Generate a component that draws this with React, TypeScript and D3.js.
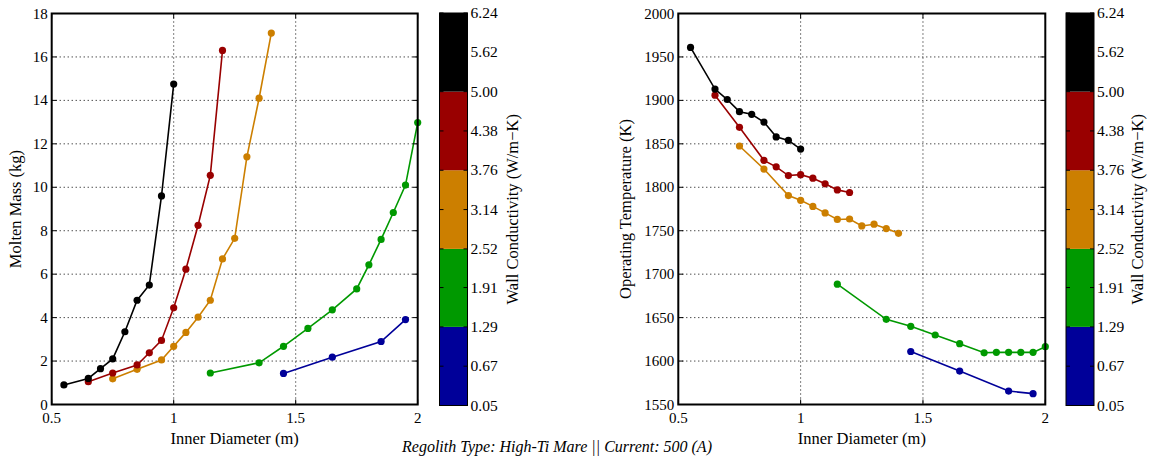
import React from "react";
import * as d3 from "d3";

// Inner diameter (m) per wall-conductivity class
const xBlack = [0.55, 0.65, 0.7, 0.75, 0.8, 0.85, 0.9, 0.95, 1.0];
const xRed = [0.65, 0.75, 0.85, 0.9, 0.95, 1.0, 1.05, 1.1, 1.15, 1.2];
const xOrange = [0.75, 0.85, 0.95, 1.0, 1.05, 1.1, 1.15, 1.2, 1.25, 1.3, 1.35, 1.4];
const xGreen = [1.15, 1.35, 1.45, 1.55, 1.65, 1.75, 1.8, 1.85, 1.9, 1.95, 2.0];
const xBlue = [1.45, 1.65, 1.85, 1.95];

// Molten mass (kg)
const massBlack = [0.9, 1.2, 1.65, 2.1, 3.35, 4.8, 5.5, 9.6, 14.75];
const massRed = [1.05, 1.45, 1.82, 2.38, 2.95, 4.45, 6.23, 8.25, 10.55, 16.3];
const massOrange = [1.18, 1.62, 2.05, 2.68, 3.32, 4.02, 4.8, 6.7, 7.65, 11.4, 14.1, 17.1];
const massGreen = [1.45, 1.92, 2.68, 3.5, 4.36, 5.32, 6.43, 7.6, 8.84, 10.1, 12.98];
const massBlue = [1.43, 2.18, 2.9, 3.91];

// Operating temperature (K)
const tempBlack = [1961, 1913, 1901, 1887, 1884, 1875, 1858, 1854, 1844];
const tempRed = [1906, 1869, 1831, 1823.5, 1813.5, 1814.5, 1810.5, 1804, 1797, 1794];
const tempOrange = [1847.5, 1821, 1790.5, 1785, 1778, 1770.5, 1763, 1763.5, 1755.5, 1757.5, 1752.5, 1747];
const tempGreen = [1688.5, 1648, 1640, 1630, 1620, 1609.5, 1610, 1610, 1610, 1610, 1616.5];
const tempBlue = [1611, 1588.5, 1565.5, 1562.5];

// Colour classes and colorbar ticks
const classColors = ["#000099", "#009900", "#cc7f00", "#990000", "#000000"];
const classBounds = [0.05, 1.29, 2.52, 3.76, 5.0, 6.24];
const cbarTicks = ["0.05", "0.67", "1.29", "1.91", "2.52", "3.14", "3.76", "4.38", "5.00", "5.62", "6.24"];

const xTicks = [0.5, 1, 1.5, 2];
const massTicks = [0, 2, 4, 6, 8, 10, 12, 14, 16, 18];
const tempTicks = [1550, 1600, 1650, 1700, 1750, 1800, 1850, 1900, 1950, 2000];

const FONT = "'Liberation Serif', 'Times New Roman', serif";

type Series = { x: number[]; y: number[]; color: string };

const massSeries: Series[] = [
  { x: xBlue, y: massBlue, color: classColors[0] },
  { x: xGreen, y: massGreen, color: classColors[1] },
  { x: xOrange, y: massOrange, color: classColors[2] },
  { x: xRed, y: massRed, color: classColors[3] },
  { x: xBlack, y: massBlack, color: classColors[4] },
];
const tempSeries: Series[] = [
  { x: xBlue, y: tempBlue, color: classColors[0] },
  { x: xGreen, y: tempGreen, color: classColors[1] },
  { x: xOrange, y: tempOrange, color: classColors[2] },
  { x: xRed, y: tempRed, color: classColors[3] },
  { x: xBlack, y: tempBlack, color: classColors[4] },
];

function Panel(props: {
  left: number;
  right: number;
  top: number;
  bottom: number;
  yDomain: [number, number];
  yTicks: number[];
  series: Series[];
  yLabel: string;
  yLabelX: number;
}) {
  const { left, right, top, bottom, yDomain, yTicks, series, yLabel, yLabelX } = props;
  const x = d3.scaleLinear().domain([0.5, 2]).range([left, right]);
  const y = d3.scaleLinear().domain(yDomain).range([bottom, top]);
  const line = d3
    .line<[number, number]>()
    .x((d) => x(d[0]))
    .y((d) => y(d[1]));
  const tl = 5;
  return (
    <g>
      {/* grid */}
      {xTicks.slice(1, -1).map((t) => (
        <line key={"gx" + t} x1={x(t)} x2={x(t)} y1={top} y2={bottom} stroke="#000" strokeWidth={1} strokeDasharray="1,3" />
      ))}
      {yTicks.slice(1, -1).map((t) => (
        <line key={"gy" + t} x1={left} x2={right} y1={y(t)} y2={y(t)} stroke="#000" strokeWidth={1} strokeDasharray="1,3" />
      ))}
      {/* series */}
      {series.map((s, i) => {
        const pts = s.x.map((v, j) => [v, s.y[j]] as [number, number]);
        return (
          <g key={i}>
            <path d={line(pts) || ""} fill="none" stroke={s.color} strokeWidth={1.6} />
            {pts.map((p, j) => (
              <circle key={j} cx={x(p[0])} cy={y(p[1])} r={3.6} fill={s.color} />
            ))}
          </g>
        );
      })}
      {/* ticks */}
      {xTicks.map((t) => (
        <g key={"tx" + t}>
          <line x1={x(t)} x2={x(t)} y1={bottom} y2={bottom - tl} stroke="#000" />
          <line x1={x(t)} x2={x(t)} y1={top} y2={top + tl} stroke="#000" />
          <text x={x(t)} y={bottom + 18} textAnchor="middle" fontSize={15} fontFamily={FONT}>
            {t}
          </text>
        </g>
      ))}
      {yTicks.map((t) => (
        <g key={"ty" + t}>
          <line x1={left} x2={left + tl} y1={y(t)} y2={y(t)} stroke="#000" />
          <line x1={right} x2={right - tl} y1={y(t)} y2={y(t)} stroke="#000" />
          <text x={left - 4} y={y(t) + 5} textAnchor="end" fontSize={15} fontFamily={FONT}>
            {t}
          </text>
        </g>
      ))}
      <rect x={left} y={top} width={right - left} height={bottom - top} fill="none" stroke="#000" strokeWidth={2} />
      <text x={(left + right) / 2} y={bottom + 39} textAnchor="middle" fontSize={16.5} fontFamily={FONT}>
        Inner Diameter (m)
      </text>
      <text
        transform={`translate(${yLabelX},${(top + bottom) / 2}) rotate(-90)`}
        textAnchor="middle"
        fontSize={16.5}
        fontFamily={FONT}
      >
        {yLabel}
      </text>
    </g>
  );
}

function ColorBar(props: { left: number; width: number; top: number; bottom: number; labelX: number }) {
  const { left, width, top, bottom, labelX } = props;
  const c = d3.scaleLinear().domain([0.05, 6.24]).range([bottom, top]);
  return (
    <g>
      {classColors.map((col, i) => (
        <rect
          key={i}
          x={left}
          y={c(classBounds[i + 1])}
          width={width}
          height={c(classBounds[i]) - c(classBounds[i + 1])}
          fill={col}
        />
      ))}
      {cbarTicks.map((t) => {
        const yy = c(+t);
        return (
          <g key={t}>
            <line x1={left} x2={left + 4} y1={yy} y2={yy} stroke="#000" />
            <line x1={left + width} x2={left + width - 4} y1={yy} y2={yy} stroke="#000" />
            <text x={left + width + 3} y={yy + 5} fontSize={15.5} fontFamily={FONT}>
              {t}
            </text>
          </g>
        );
      })}
      <rect x={left} y={top} width={width} height={bottom - top} fill="none" stroke="#000" strokeWidth={1} />
      <text
        transform={`translate(${labelX},${(top + bottom) / 2}) rotate(-90)`}
        textAnchor="middle"
        fontSize={16.5}
        fontFamily={FONT}
      >
        Wall Conductivity (W/m−K)
      </text>
    </g>
  );
}

export default function App() {
  const top = 13.5;
  const bottom = 404.5;
  return (
    <svg width={1151} height={462} style={{ position: "absolute", left: 0, top: 0, background: "#fff" }}>
      <rect x={0} y={0} width={1151} height={462} fill="#fff" />
      <Panel
        left={51.7}
        right={417.7}
        top={top}
        bottom={bottom}
        yDomain={[0, 18]}
        yTicks={massTicks}
        series={massSeries}
        yLabel="Molten Mass (kg)"
        yLabelX={21}
      />
      <ColorBar left={439.5} width={28} top={13} bottom={405.5} labelX={518} />
      <Panel
        left={678.3}
        right={1045.3}
        top={top}
        bottom={bottom}
        yDomain={[1550, 2000]}
        yTicks={tempTicks}
        series={tempSeries}
        yLabel="Operating Temperature (K)"
        yLabelX={631}
      />
      <ColorBar left={1066} width={28} top={13} bottom={405.5} labelX={1143} />
      <text x={557} y={452} textAnchor="middle" fontSize={16} fontStyle="italic" fontFamily={FONT}>
        Regolith Type: High-Ti Mare || Current: 500 (A)
      </text>
    </svg>
  );
}
